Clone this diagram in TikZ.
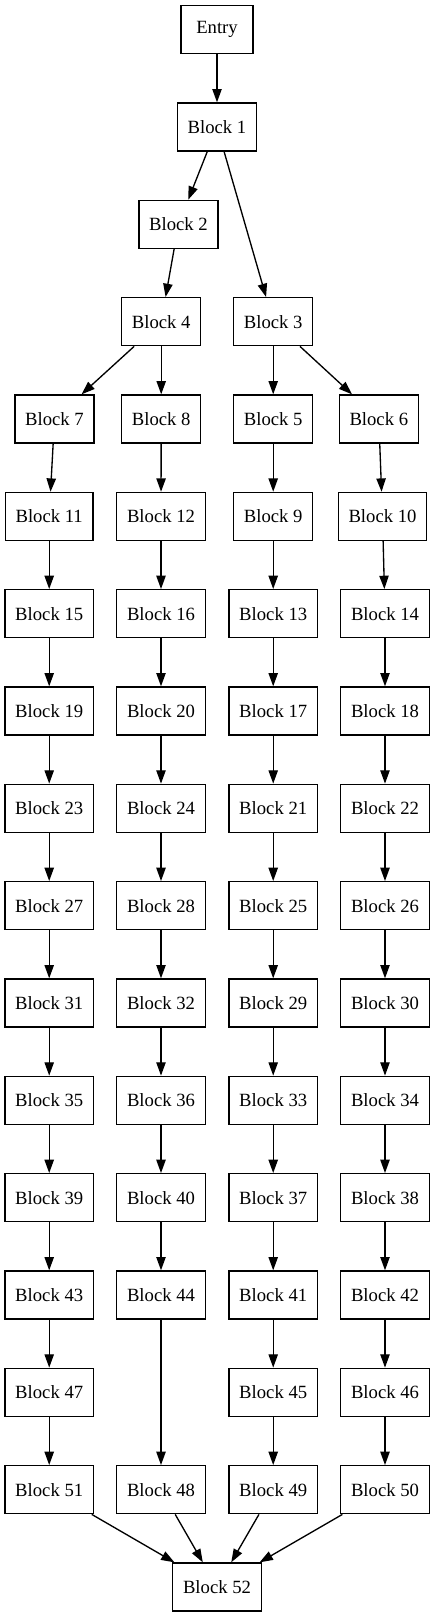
\documentclass[tikz,border=0pt]{standalone}
\usepackage{fontspec}
\setmainfont{Liberation Serif}
\usetikzlibrary{arrows.meta}

\begin{document}
\begin{tikzpicture}[x=0.75pt,y=-0.75pt,line width=1pt,
	blk/.style={draw,minimum width=54pt,minimum height=36pt,inner xsep=7.7pt,inner ysep=0pt,font=\fontsize{14}{16}\selectfont},
	flow/.style={-{Triangle[length=10pt,width=7pt]}}]
			\useasboundingbox (0,0) rectangle (435,1617);
			% top of the tree
			\node [blk] (e) at (217,29.7) {Entry};
			\node [blk] (b1) at (217,127) {Block 1};
			\node [blk] (b2) at (178.5,224.4) {Block 2};
			\node [blk] (b4) at (161.2,321.7) {Block 4};
			\node [blk] (b3) at (273.2,321.7) {Block 3};
			\node [blk] (b7) at (54.5,419) {Block 7};
			\node [blk] (b8) at (161.2,419) {Block 8};
			\node [blk] (b5) at (273.2,419) {Block 5};
			\node [blk] (b6) at (378.8,419) {Block 6};
			\node [blk] (b11) at (49.2,516.4) {Block 11};
			\node [blk] (b12) at (161,516.4) {Block 12};
			\node [blk] (b9) at (273.2,516.4) {Block 9};
			\node [blk] (b10) at (382.5,516.4) {Block 10};
			% four columns
			\node [blk] (b15) at (49.2,613.7) {Block 15};
			\node [blk] (b16) at (161,613.7) {Block 16};
			\node [blk] (b13) at (273.2,613.7) {Block 13};
			\node [blk] (b14) at (385,613.7) {Block 14};
			\node [blk] (b19) at (49.2,711) {Block 19};
			\node [blk] (b20) at (161,711) {Block 20};
			\node [blk] (b17) at (273.2,711) {Block 17};
			\node [blk] (b18) at (385,711) {Block 18};
			\node [blk] (b23) at (49.2,808.3) {Block 23};
			\node [blk] (b24) at (161,808.3) {Block 24};
			\node [blk] (b21) at (273.2,808.3) {Block 21};
			\node [blk] (b22) at (385,808.3) {Block 22};
			\node [blk] (b27) at (49.2,905.7) {Block 27};
			\node [blk] (b28) at (161,905.7) {Block 28};
			\node [blk] (b25) at (273.2,905.7) {Block 25};
			\node [blk] (b26) at (385,905.7) {Block 26};
			\node [blk] (b31) at (49.2,1003) {Block 31};
			\node [blk] (b32) at (161,1003) {Block 32};
			\node [blk] (b29) at (273.2,1003) {Block 29};
			\node [blk] (b30) at (385,1003) {Block 30};
			\node [blk] (b35) at (49.2,1100.3) {Block 35};
			\node [blk] (b36) at (161,1100.3) {Block 36};
			\node [blk] (b33) at (273.2,1100.3) {Block 33};
			\node [blk] (b34) at (385,1100.3) {Block 34};
			\node [blk] (b39) at (49.2,1197.7) {Block 39};
			\node [blk] (b40) at (161,1197.7) {Block 40};
			\node [blk] (b37) at (273.2,1197.7) {Block 37};
			\node [blk] (b38) at (385,1197.7) {Block 38};
			\node [blk] (b43) at (49.2,1295) {Block 43};
			\node [blk] (b44) at (161,1295) {Block 44};
			\node [blk] (b41) at (273.2,1295) {Block 41};
			\node [blk] (b42) at (385,1295) {Block 42};
			\node [blk] (b47) at (49.2,1392.3) {Block 47};
			\node [blk] (b45) at (273.2,1392.3) {Block 45};
			\node [blk] (b46) at (385,1392.3) {Block 46};
			\node [blk] (b51) at (49.2,1489.7) {Block 51};
			\node [blk] (b48) at (161,1489.7) {Block 48};
			\node [blk] (b49) at (273.2,1489.7) {Block 49};
			\node [blk] (b50) at (385,1489.7) {Block 50};
			\node [blk] (b52) at (217,1587) {Block 52};
			% edges
			\draw [flow] (e) -- (b1);
			\draw [flow] (b1) -- (b2);
			\draw [flow] (b1) -- (b3);
			\draw [flow] (b2) -- (b4);
			\draw [flow] (b4) -- (b7);
			\draw [flow] (b4) -- (b8);
			\draw [flow] (b3) -- (b5);
			\draw [flow] (b3) -- (b6);
			\draw [flow] (b7) -- (b11);
			\draw [flow] (b8) -- (b12);
			\draw [flow] (b5) -- (b9);
			\draw [flow] (b6) -- (b10);
			\draw [flow] (b11) -- (b15);
			\draw [flow] (b12) -- (b16);
			\draw [flow] (b9) -- (b13);
			\draw [flow] (b10) -- (b14);
			\draw [flow] (b15) -- (b19);
			\draw [flow] (b16) -- (b20);
			\draw [flow] (b13) -- (b17);
			\draw [flow] (b14) -- (b18);
			\draw [flow] (b19) -- (b23);
			\draw [flow] (b20) -- (b24);
			\draw [flow] (b17) -- (b21);
			\draw [flow] (b18) -- (b22);
			\draw [flow] (b23) -- (b27);
			\draw [flow] (b24) -- (b28);
			\draw [flow] (b21) -- (b25);
			\draw [flow] (b22) -- (b26);
			\draw [flow] (b27) -- (b31);
			\draw [flow] (b28) -- (b32);
			\draw [flow] (b25) -- (b29);
			\draw [flow] (b26) -- (b30);
			\draw [flow] (b31) -- (b35);
			\draw [flow] (b32) -- (b36);
			\draw [flow] (b29) -- (b33);
			\draw [flow] (b30) -- (b34);
			\draw [flow] (b35) -- (b39);
			\draw [flow] (b36) -- (b40);
			\draw [flow] (b33) -- (b37);
			\draw [flow] (b34) -- (b38);
			\draw [flow] (b39) -- (b43);
			\draw [flow] (b40) -- (b44);
			\draw [flow] (b37) -- (b41);
			\draw [flow] (b38) -- (b42);
			\draw [flow] (b43) -- (b47);
			\draw [flow] (b41) -- (b45);
			\draw [flow] (b42) -- (b46);
			\draw [flow] (b47) -- (b51);
			\draw [flow] (b44) -- (b48);
			\draw [flow] (b45) -- (b49);
			\draw [flow] (b46) -- (b50);
			\draw [flow] (b51) -- (b52);
			\draw [flow] (b48) -- (b52);
			\draw [flow] (b49) -- (b52);
			\draw [flow] (b50) -- (b52);
\end{tikzpicture}
\end{document}
